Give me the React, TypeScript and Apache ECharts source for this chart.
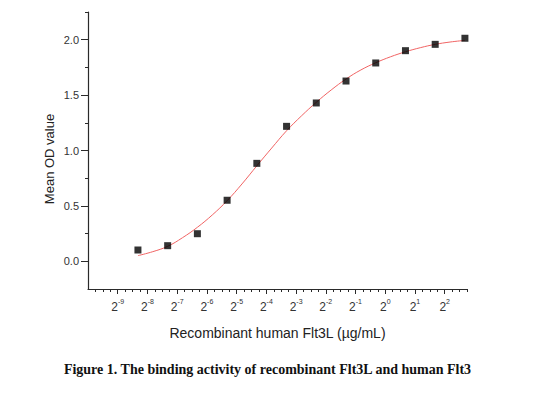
import React, { useEffect, useRef } from "react";
import * as echarts from "echarts";

// log2 of the concentration of recombinant human Flt3L (µg/mL)
const doseLog2 = [-8.32, -7.32, -6.32, -5.32, -4.32, -3.32, -2.32, -1.32, -0.32, 0.68, 1.68, 2.68];
// mean OD values
const meanOD = [0.102, 0.141, 0.249, 0.551, 0.884, 1.218, 1.429, 1.627, 1.79, 1.901, 1.958, 2.013];

// fitted curve
const fitLog2 = [
  -8.32, -7.82, -7.32, -6.82, -6.32, -5.82, -5.32, -4.82, -4.32, -3.82, -3.32, -2.82,
  -2.32, -1.82, -1.32, -0.82, -0.32, 0.18, 0.68, 1.18, 1.68, 2.18, 2.68,
];
const fitOD = [
  0.051, 0.087, 0.135, 0.213, 0.307, 0.418, 0.547, 0.698, 0.862, 1.022, 1.178, 1.312,
  1.435, 1.546, 1.645, 1.727, 1.792, 1.846, 1.891, 1.928, 1.958, 1.979, 1.994,
];

const xMajor = [-9, -8, -7, -6, -5, -4, -3, -2, -1, 0, 1, 2];
const yMajor = [0, 0.5, 1, 1.5, 2];

const X_MIN = -10;
const X_MAX = 2.75;
const Y_MIN = -0.25;
const Y_MAX = 2.25;

export default function App() {
  const ref = useRef<HTMLDivElement>(null);
  useEffect(() => {
    if (!ref.current) return;
    const chart = echarts.init(ref.current, null, { renderer: "svg" });
    const xMinor: number[] = [];
    for (let v = X_MIN + 0.25; v <= X_MAX + 1e-9; v += 0.25) {
      if (Math.abs(v - Math.round(v)) > 1e-6) xMinor.push(+v.toFixed(2));
    }
    const yMinor: number[] = [];
    for (let v = 0.25; v <= Y_MAX + 1e-9; v += 0.5) yMinor.push(+v.toFixed(2));

    const axisColor = "#2a2a2a";
    const labelColor = "#333";
    const font = "Liberation Sans, Arial, sans-serif";

    chart.setOption({
      animation: false,
      grid: { left: 88, right: 73, top: 12, bottom: 109, containLabel: false },
      xAxis: [
        {
          type: "value",
          min: X_MIN,
          max: X_MAX,
          splitLine: { show: false },
          axisLine: { show: true, onZero: false, lineStyle: { color: axisColor, width: 1.2 } },
          axisTick: { show: true, customValues: xMajor, length: 5, lineStyle: { color: axisColor } },
          axisLabel: {
            customValues: xMajor,
            margin: 9,
            formatter: (v: number) => `{b|2}{s|${v}}`,
            rich: {
              b: { fontSize: 12, fontFamily: font, color: labelColor, lineHeight: 15, verticalAlign: "bottom" },
              s: { fontSize: 7, fontFamily: font, color: labelColor, lineHeight: 15, verticalAlign: "top" },
            },
          },
          name: "Recombinant human Flt3L (µg/mL)",
          nameLocation: "middle",
          nameGap: 37,
          nameTextStyle: { fontSize: 14, fontFamily: font, color: "#222" },
        },
        {
          type: "value",
          min: X_MIN,
          max: X_MAX,
          position: "bottom",
          splitLine: { show: false },
          axisLine: { show: false, onZero: false },
          axisTick: { show: true, customValues: xMinor, length: 3, lineStyle: { color: axisColor } },
          axisLabel: { show: false },
        },
      ],
      yAxis: [
        {
          type: "value",
          min: Y_MIN,
          max: Y_MAX,
          splitLine: { show: false },
          axisLine: { show: true, onZero: false, lineStyle: { color: axisColor, width: 1.2 } },
          axisTick: { show: true, customValues: yMajor, length: 7, lineStyle: { color: axisColor } },
          axisLabel: {
            customValues: yMajor,
            margin: 9,
            fontSize: 11,
            fontFamily: font,
            color: labelColor,
            formatter: (v: number) => v.toFixed(1),
          },
        },
        {
          type: "value",
          min: Y_MIN,
          max: Y_MAX,
          position: "left",
          splitLine: { show: false },
          axisLine: { show: false, onZero: false },
          axisTick: { show: true, customValues: yMinor, length: 3, lineStyle: { color: axisColor } },
          axisLabel: { show: false },
        },
      ],
      graphic: [
        {
          type: "text",
          x: 49,
          y: 159,
          rotation: Math.PI / 2,
          style: {
            text: "Mean OD value",
            fontSize: 13,
            fontFamily: font,
            fill: "#222",
            align: "center",
            verticalAlign: "middle",
          },
        },
        {
          type: "text",
          x: 267.5,
          y: 369,
          style: {
            text: "Figure 1. The binding activity of recombinant Flt3L and human Flt3",
            fontSize: 14,
            fontWeight: "bold",
            fontFamily: "Liberation Serif, Times New Roman, serif",
            fill: "#111",
            align: "center",
            verticalAlign: "middle",
          },
        },
      ],
      series: [
        {
          type: "line",
          xAxisIndex: 0,
          yAxisIndex: 0,
          data: fitLog2.map((x, i) => [x, fitOD[i]]),
          smooth: 0.4,
          showSymbol: false,
          symbol: "none",
          lineStyle: { color: "#f06464", width: 1 },
          z: 2,
        },
        {
          type: "scatter",
          xAxisIndex: 0,
          yAxisIndex: 0,
          data: doseLog2.map((x, i) => [x, meanOD[i]]),
          symbol: "rect",
          symbolSize: 7,
          itemStyle: { color: "#000" },
          z: 3,
        },
      ],
    });
    return () => chart.dispose();
  }, []);
  return (
    <div
      ref={ref}
      style={{ position: "fixed", left: 0, top: 0, width: 540, height: 398, background: "#fff" }}
    />
  );
}
